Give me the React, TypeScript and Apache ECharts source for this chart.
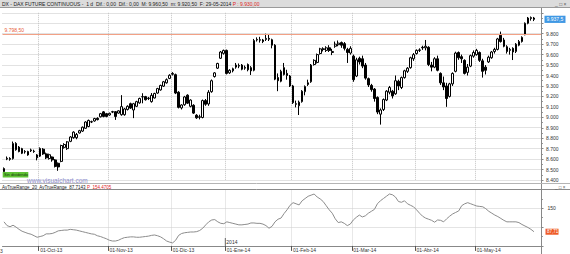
import React, { useEffect, useRef } from 'react';
import * as echarts from 'echarts';

// ---- trading days (day numbers per month) ----
const sep13Days = [13, 16, 17, 18, 19, 20, 23, 24, 25, 26, 27, 30];
const oct13Days = [1, 2, 3, 4, 7, 8, 9, 10, 11, 14, 15, 16, 17, 18, 21, 22, 23, 24, 25, 28, 29, 30, 31];
const nov13Days = [1, 4, 5, 6, 7, 8, 11, 12, 13, 14, 15, 18, 19, 20, 21, 22, 25, 26, 27, 28, 29];
const dec13Days = [2, 3, 4, 5, 6, 9, 10, 11, 12, 13, 16, 17, 18, 19, 20, 23, 27, 30];
const jan14Days = [2, 3, 6, 7, 8, 9, 10, 13, 14, 15, 16, 17, 20, 21, 22, 23, 24, 27, 28, 29, 30, 31];
const feb14Days = [3, 4, 5, 6, 7, 10, 11, 12, 13, 14, 17, 18, 19, 20, 21, 24, 25, 26, 27, 28];
const mar14Days = [3, 4, 5, 6, 7, 10, 11, 12, 13, 14, 17, 18, 19, 20, 21, 24, 25, 26, 27, 28, 31];
const apr14Days = [1, 2, 3, 4, 7, 8, 9, 10, 11, 14, 15, 16, 17, 22, 23, 24, 25, 28, 29, 30];
const may14Days = [2, 5, 6, 7, 8, 9, 12, 13, 14, 15, 16, 19, 20, 21, 22, 23, 26, 27, 28, 29];

const monthKeys = ['2013-09', '2013-10', '2013-11', '2013-12', '2014-01', '2014-02', '2014-03', '2014-04', '2014-05'];
const monthDays = [sep13Days, oct13Days, nov13Days, dec13Days, jan14Days, feb14Days, mar14Days, apr14Days, may14Days];
const monthLabels = ['', '01-Oct-13', '01-Nov-13', '01-Dic-13', '01-Ene-14', '01-Feb-14', '01-Mar-14', '01-Abr-14', '01-May-14'];

// ---- OHLC ----
const opens = [
  8480, 8600, 8606, 8605, 8750, 8715, 8700, 8668, 8672, 8680, 8676, 8612, 8628, 8695, 8650, 8605, 8620, 8592, 8560, 8578,
  8712, 8700, 8770, 8805, 8805, 8850, 8868, 8895, 8912, 8955, 8965, 8990, 9005, 9052, 9035, 9022, 9050, 9054, 9040, 9025,
  9025, 9075, 9130, 9070, 9105, 9138, 9195, 9198, 9180, 9150, 9185, 9232, 9262, 9298, 9330, 9372, 9412, 9408, 9240, 9090,
  9120, 9212, 9105, 9115, 9020, 9000, 8998, 9160, 9128, 9245, 9390, 9470, 9565, 9612, 9640, 9425, 9445, 9480, 9495, 9500,
  9470, 9505, 9475, 9450, 9740, 9742, 9740, 9745, 9755, 9742, 9690, 9380, 9345, 9475, 9420, 9395, 9300, 9130, 9110, 9150,
  9245, 9330, 9340, 9505, 9525, 9610, 9655, 9640, 9665, 9620, 9680, 9695, 9715, 9705, 9650, 9615, 9585, 9395, 9565, 9560,
  9500, 9370, 9305, 9270, 9190, 9030, 9075, 9165, 9240, 9250, 9225, 9345, 9285, 9380, 9440, 9475, 9560, 9610, 9640, 9670,
  9665, 9670, 9500, 9480, 9560, 9420, 9330, 9300, 9200, 9320, 9440, 9620, 9580, 9545, 9430, 9490, 9585, 9600, 9620, 9540,
  9480, 9530, 9570, 9630, 9650, 9785, 9740, 9675, 9640, 9660, 9630, 9690, 9725, 9790, 9900, 9945, 9950,
];
const closes = [
  8510, 8608, 8598, 8750, 8690, 8672, 8656, 8673, 8640, 8688, 8672, 8640, 8702, 8650, 8612, 8642, 8592, 8530, 8525, 8730,
  8740, 8765, 8812, 8858, 8835, 8872, 8905, 8955, 8970, 8958, 8988, 8978, 9035, 9008, 9008, 9038, 9054, 9008, 9062, 9102,
  9080, 9105, 9088, 9130, 9150, 9180, 9198, 9168, 9184, 9210, 9228, 9275, 9305, 9340, 9360, 9402, 9420, 9232, 9095, 9118,
  9195, 9135, 9165, 9040, 8995, 9005, 9160, 9125, 9240, 9350, 9425, 9515, 9625, 9640, 9420, 9450, 9465, 9500, 9490, 9460,
  9478, 9455, 9445, 9735, 9745, 9738, 9725, 9755, 9748, 9690, 9365, 9350, 9440, 9410, 9400, 9300, 9140, 9125, 9145, 9250,
  9295, 9315, 9500, 9545, 9600, 9655, 9650, 9665, 9640, 9630, 9700, 9710, 9690, 9660, 9620, 9660, 9360, 9550, 9530, 9490,
  9375, 9310, 9265, 9180, 9050, 9070, 9170, 9250, 9285, 9205, 9350, 9300, 9380, 9445, 9470, 9570, 9600, 9640, 9645, 9665,
  9680, 9505, 9480, 9560, 9450, 9330, 9290, 9180, 9320, 9420, 9615, 9570, 9560, 9420, 9480, 9590, 9620, 9640, 9545, 9440,
  9450, 9575, 9625, 9650, 9750, 9725, 9680, 9630, 9650, 9625, 9700, 9725, 9765, 9900, 9950, 9955, 9937.5,
];
const lows = [
  8470, 8590, 8585, 8595, 8680, 8665, 8648, 8652, 8632, 8668, 8660, 8588, 8620, 8640, 8600, 8595, 8575, 8520, 8488, 8570,
  8700, 8688, 8762, 8795, 8790, 8845, 8860, 8890, 8905, 8945, 8958, 8970, 8998, 9000, 9000, 9015, 9040, 8975, 9035, 9015,
  9015, 9065, 9080, 8992, 9098, 9130, 9134, 9160, 9165, 9140, 9180, 9225, 9255, 9290, 9322, 9365, 9400, 9222, 9085, 9075,
  9110, 9128, 9095, 9032, 8985, 8980, 8990, 9110, 9110, 9235, 9380, 9462, 9558, 9600, 9410, 9415, 9430, 9465, 9470, 9450,
  9455, 9440, 9405, 9440, 9725, 9715, 9710, 9730, 9730, 9660, 9355, 9250, 9335, 9400, 9360, 9290, 9128, 9095, 9022, 9140,
  9210, 9300, 9330, 9495, 9515, 9600, 9630, 9625, 9625, 9595, 9665, 9680, 9665, 9640, 9520, 9600, 9340, 9385, 9505, 9470,
  9360, 9290, 9245, 9150, 9030, 8930, 9060, 9155, 9220, 9180, 9215, 9260, 9270, 9370, 9425, 9465, 9540, 9600, 9625, 9645,
  9640, 9490, 9440, 9470, 9440, 9310, 9260, 9100, 9190, 9300, 9430, 9550, 9520, 9410, 9400, 9480, 9570, 9590, 9530, 9380,
  9410, 9520, 9560, 9610, 9640, 9715, 9670, 9610, 9600, 9548, 9615, 9680, 9715, 9785, 9890, 9925, 9920.5,
];
const highs = [
  8520, 8625, 8618, 8768, 8762, 8725, 8708, 8686, 8680, 8700, 8690, 8648, 8712, 8705, 8662, 8652, 8626, 8600, 8568, 8738,
  8752, 8772, 8820, 8866, 8850, 8880, 8912, 8962, 8978, 8968, 8995, 9000, 9042, 9060, 9042, 9045, 9062, 9060, 9068, 9212,
  9090, 9115, 9140, 9138, 9158, 9188, 9230, 9205, 9195, 9232, 9235, 9282, 9312, 9348, 9372, 9412, 9432, 9418, 9250, 9125,
  9205, 9220, 9172, 9125, 9030, 9025, 9170, 9175, 9260, 9362, 9432, 9522, 9635, 9648, 9648, 9460, 9475, 9520, 9515, 9510,
  9495, 9515, 9490, 9750, 9765, 9770, 9750, 9800, 9790, 9752, 9700, 9420, 9455, 9520, 9455, 9405, 9310, 9160, 9160, 9260,
  9305, 9360, 9510, 9555, 9610, 9665, 9670, 9680, 9690, 9655, 9725, 9735, 9725, 9720, 9665, 9680, 9600, 9570, 9580, 9590,
  9520, 9380, 9320, 9280, 9200, 9085, 9180, 9260, 9300, 9262, 9400, 9360, 9390, 9455, 9480, 9580, 9615, 9650, 9660, 9685,
  9740, 9680, 9530, 9575, 9590, 9430, 9390, 9330, 9330, 9430, 9628, 9630, 9600, 9555, 9510, 9600, 9640, 9655, 9630, 9560,
  9500, 9590, 9635, 9665, 9760, 9820, 9760, 9690, 9665, 9670, 9710, 9740, 9775, 9908, 9960, 9965, 9960.5,
];

// ---- AvTrueRange(20) ----
const atr = [
  114, 104, 101, 105, 100, 94, 89, 86, 83, 81, 77, 73, 75, 77, 82, 82, 83, 86, 90, 91,
  92, 92, 94, 93, 92, 90, 88, 86, 84, 82, 81, 77, 75, 72, 69, 65, 63, 63, 65, 69,
  72, 73, 74, 74, 73, 73, 74, 75, 76, 78, 79, 77, 74, 69, 63, 60, 58, 65, 78, 83,
  85, 86, 87, 87, 88, 91, 97, 106, 114, 119, 120, 114, 110, 109, 114, 112, 110, 108, 106, 106,
  107, 108, 111, 111, 110, 110, 108, 104, 97, 102, 114, 121, 124, 136, 146, 158, 165, 162, 159, 170,
  176, 182, 185, 188, 180, 175, 168, 157, 146, 137, 122, 112, 114, 110, 104, 108, 119, 126, 132, 127,
  130, 137, 142, 147, 162, 170, 176, 182, 188, 186, 180, 168, 166, 170, 162, 158, 154, 146, 137, 129,
  124, 121, 118, 113, 119, 118, 114, 122, 129, 135, 139, 143, 157, 162, 165, 162, 159, 156, 155, 154,
  149, 142, 137, 132, 128, 123, 118, 114, 114, 114, 114, 112, 107, 103, 99, 94, 87.71,
];

const refLevel = 9798.5;
const priceTicks = { min: 8400, max: 10000, step: 100 };
const atrTicks = { min: 50, max: 200, step: 50 };

const FONT = 'Liberation Sans, Arial, sans-serif';
const W = 570;
const H = 254;

const fmtThousands = (v: number) => String(Math.round(v)).replace(/\B(?=(\d{3})+(?!\d))/g, '.');

export default function App() {
  const ref = useRef<HTMLDivElement>(null);

  useEffect(() => {
    document.body.style.margin = '0';
    const chart = echarts.init(ref.current!, null, { renderer: 'svg', width: W, height: H });

    const cats: string[] = [];
    const monthStart = new Map<number, string>();
    monthKeys.forEach((mk, mi) => {
      monthDays[mi].forEach((d, di) => {
        if (di === 0 && mi > 0) monthStart.set(cats.length, monthLabels[mi]);
        cats.push(`${mk}-${String(d).padStart(2, '0')}`);
      });
    });
    cats.push('pad1', 'pad2');
    const isStart = (i: number) => monthStart.has(i);

    const candleData = opens.map((o, i) => [o, closes[i], lows[i], highs[i]]);
    const gridLeft = 2.5;
    const gridWidth = 539;
    const lastClose = closes[closes.length - 1];

    chart.setOption({
      animation: false,
      backgroundColor: '#ffffff',
      textStyle: { fontFamily: FONT },
      grid: [
        { left: gridLeft, width: gridWidth, top: 12.8, height: 167.2 },
        { left: gridLeft, width: gridWidth, top: 189.5, height: 56.4 },
      ],
      xAxis: [
        {
          type: 'category', gridIndex: 0, data: cats, boundaryGap: true,
          axisLine: { show: false }, axisTick: { show: false }, axisLabel: { show: false },
          splitLine: { show: true, interval: (i: number) => isStart(i), lineStyle: { color: '#c4c4c4', type: 'dotted', width: 1 } },
        },
        {
          type: 'category', gridIndex: 1, data: cats, boundaryGap: true,
          axisLine: { show: true, lineStyle: { color: '#888' } },
          axisTick: { show: true, interval: (i: number) => isStart(i), length: 5, lineStyle: { color: '#555' } },
          axisLabel: {
            show: true, interval: (i: number) => isStart(i), align: 'left', fontSize: 5, color: '#333', margin: 2,
            fontFamily: FONT, formatter: (_v: string, i: number) => monthStart.get(i) || '',
          },
          splitLine: { show: true, interval: (i: number) => isStart(i), lineStyle: { color: '#d0d0d0', type: 'dotted', width: 1 } },
        },
      ],
      yAxis: [
        {
          type: 'value', gridIndex: 0, position: 'right', min: priceTicks.min, max: priceTicks.max, interval: priceTicks.step,
          axisLine: { show: true, lineStyle: { color: '#888' } },
          axisTick: { show: true, length: 2, lineStyle: { color: '#888' } },
          minorTick: { show: true, splitNumber: 2, length: 1.5, lineStyle: { color: '#999' } },
          axisLabel: {
            fontSize: 5, color: '#333', margin: 4.5, fontFamily: FONT,
            // the top tick is outside the panel and the one next to the last price sits under its box
            formatter: (v: number) => (v >= 10000 || Math.abs(v - lastClose) < 60 ? '' : fmtThousands(v)),
          },
          splitLine: { show: true, lineStyle: { color: '#c4c4c4', type: 'dotted', width: 1 } },
        },
        {
          type: 'value', gridIndex: 1, position: 'right', min: atrTicks.min, max: atrTicks.max, interval: atrTicks.step,
          axisLine: { show: true, lineStyle: { color: '#888' } },
          axisTick: { show: true, length: 2, lineStyle: { color: '#888' } },
          minorTick: { show: true, splitNumber: 2, length: 1.5, lineStyle: { color: '#999' } },
          axisLabel: { fontSize: 5, color: '#333', margin: 6, fontFamily: FONT, formatter: (v: number) => (v === 150 ? '150' : '') },
          splitLine: { show: true, lineStyle: { color: '#c8c8c8', type: 'dotted', width: 1 } },
        },
      ],
      series: [
        {
          type: 'candlestick', xAxisIndex: 0, yAxisIndex: 0, data: candleData, barWidth: 2.2,
          itemStyle: { color: '#ffffff', color0: '#000000', borderColor: '#000000', borderColor0: '#000000', borderWidth: 1 },
          markLine: {
            silent: true, symbol: 'none', animation: false,
            data: [{ yAxis: refLevel }],
            lineStyle: { color: '#f2a186', type: 'solid', width: 1 },
            label: { show: true, position: 'insideStartTop', formatter: '9.798,50', color: '#e8603c', fontSize: 5, distance: [2, 1], fontFamily: FONT },
          },
        },
        {
          type: 'line', xAxisIndex: 1, yAxisIndex: 1, data: atr, showSymbol: false, symbol: 'none',
          lineStyle: { color: '#8c8c8c', width: 1 },
        },
      ],
    });

    const last = closes.length - 1;
    const yClose = chart.convertToPixel({ yAxisIndex: 0 }, closes[last]) as number;
    const yAtr = chart.convertToPixel({ yAxisIndex: 1 }, atr[last]) as number;
    let janIdx = 0;
    monthStart.forEach((lab, idx) => { if (lab === '01-Ene-14') janIdx = idx; });
    const band = gridWidth / cats.length;
    const xJan = (chart.convertToPixel({ xAxisIndex: 1 }, cats[janIdx]) as number) - band / 2;
    const axisX = gridLeft + gridWidth;

    chart.setOption({
      graphic: [
        { type: 'rect', z: 100, shape: { x: 0, y: 0, width: W, height: 7 }, style: { fill: '#dcdcdc' } },
        { type: 'line', z: 100, shape: { x1: 0, y1: 7.5, x2: W, y2: 7.5 }, style: { stroke: '#9a9a9a', lineWidth: 1 } },
        {
          type: 'text', z: 101, x: 2, y: 1,
          style: {
            text: '{a|DX - DAX FUTURE CONTINUOUS -  1 d  Dif.: 0,00  Dif.: 0,00  M: 9.960,50  m: 9.920,50  F: 29-05-2014} {r|P : 9.930,00}',
            fontSize: 5, fontFamily: FONT, fill: '#222',
            rich: { a: { fontSize: 5, fill: '#222', fontFamily: FONT }, r: { fontSize: 5, fill: '#e0261f', fontFamily: FONT } },
          },
        },
        { type: 'text', z: 101, x: 555, y: 1, style: { text: '_ \u25a1 \u00d7', fontSize: 5, fill: '#555', fontFamily: FONT } },
        { type: 'line', z: 100, shape: { x1: axisX, y1: 8, x2: axisX, y2: H }, style: { stroke: '#888', lineWidth: 1 } },
        { type: 'line', z: 100, shape: { x1: 0, y1: 183.5, x2: W, y2: 183.5 }, style: { stroke: '#b4b4b4', lineWidth: 1 } },
        { type: 'line', z: 100, shape: { x1: 0, y1: 189.5, x2: W, y2: 189.5 }, style: { stroke: '#8a8a8a', lineWidth: 1 } },
        {
          type: 'text', z: 101, x: 2, y: 184.6,
          style: {
            text: '{a|AvTrueRange_20  AvTrueRange  87,7143} {r|P  154,4705}',
            fontSize: 4.5, fontFamily: FONT, fill: '#222',
            rich: { a: { fontSize: 4.5, fill: '#222', fontFamily: FONT }, r: { fontSize: 4.5, fill: '#e0261f', fontFamily: FONT } },
          },
        },
        { type: 'text', z: 101, x: 555, y: 184.6, style: { text: '_ \u25a1 \u00d7', fontSize: 4.5, fill: '#555', fontFamily: FONT } },
        { type: 'rect', z: 100, shape: { x: 2.7, y: 172, width: 25.6, height: 5.4 }, style: { fill: '#5fc234' } },
        { type: 'text', z: 101, x: 4, y: 172.6, style: { text: 'Sin dividendo', fontSize: 4, fill: '#173a0c', fontFamily: FONT } },
        { type: 'text', z: 101, x: 27, y: 177.2, style: { text: 'www.visualchart.com', fontSize: 6.5, fill: '#8d8dcb', fontFamily: FONT } },
        { type: 'rect', z: 102, shape: { x: axisX + 3, y: yClose - 3.6, width: 21, height: 7.2 }, style: { fill: '#3f98e4' } },
        { type: 'text', z: 103, x: axisX + 5, y: yClose - 2.6, style: { text: '9.937,5', fontSize: 5, fill: '#ffffff', fontFamily: FONT } },
        { type: 'rect', z: 102, shape: { x: axisX + 4, y: yAtr - 3, width: 13, height: 6 }, style: { fill: '#ee5a26' } },
        { type: 'text', z: 103, x: axisX + 5.5, y: yAtr - 2.3, style: { text: '87,71', fontSize: 4.5, fill: '#ffffff', fontFamily: FONT } },
        { type: 'line', z: 100, shape: { x1: xJan, y1: 238, x2: xJan, y2: 245.9 }, style: { stroke: '#666', lineWidth: 1 } },
        { type: 'text', z: 101, x: xJan + 1, y: 239.5, style: { text: '2014', fontSize: 5, fill: '#333', fontFamily: FONT } },
        { type: 'text', z: 101, x: 0, y: 248.3, style: { text: '3', fontSize: 5, fill: '#333', fontFamily: FONT } },
      ],
    });

    return () => chart.dispose();
  }, []);

  return <div ref={ref} style={{ position: 'absolute', left: 0, top: 0, width: W, height: H, background: '#fff' }} />;
}
